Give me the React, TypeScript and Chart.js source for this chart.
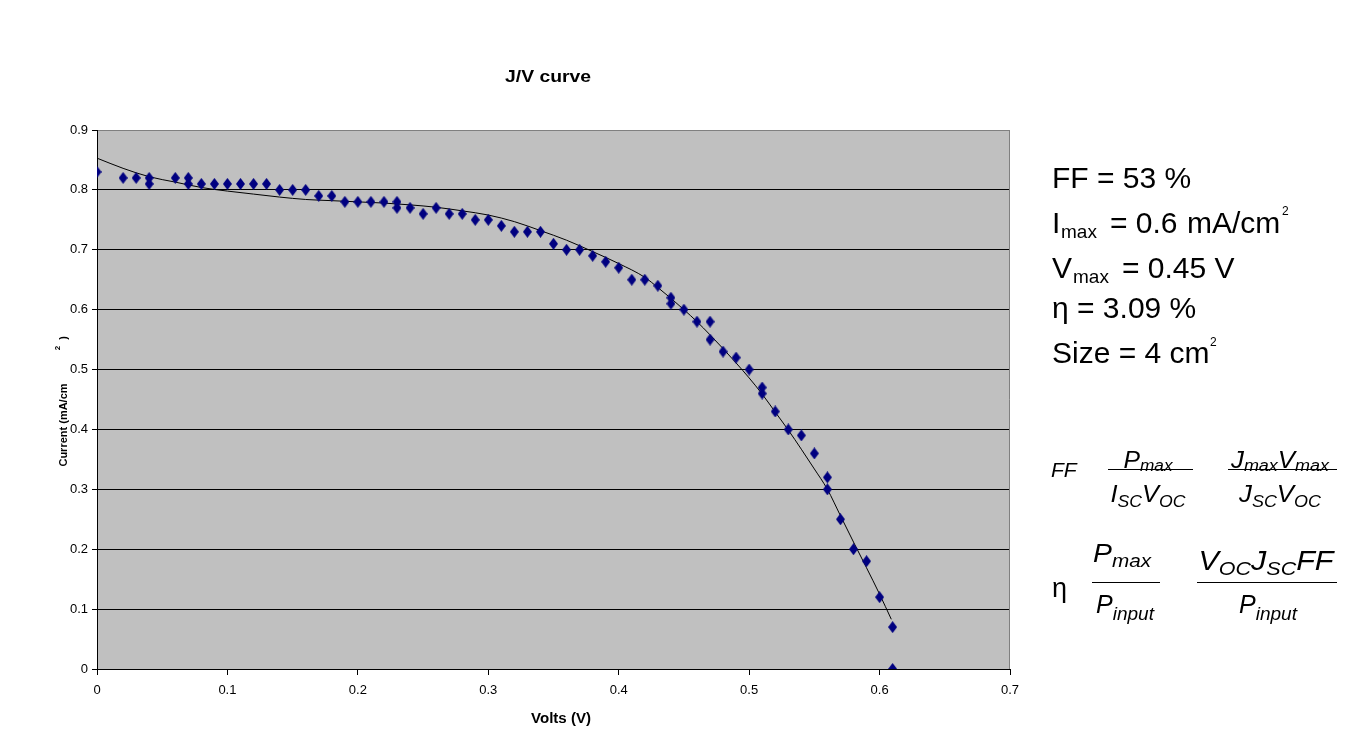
import React, { useEffect, useRef } from "react";
import { Chart, registerables } from "chart.js";

Chart.register(...registerables);

// ---- data ----
const VOLTS = [
  0, 0.02, 0.03, 0.04, 0.04, 0.06, 0.07, 0.07, 0.08, 0.09, 0.1, 0.11, 0.12, 0.13, 0.14, 0.15, 0.16, 0.17,
  0.18, 0.19, 0.2, 0.21, 0.22, 0.23, 0.23, 0.24, 0.25, 0.26, 0.27, 0.28, 0.29, 0.3, 0.31, 0.32, 0.33, 0.34,
  0.35, 0.36, 0.37, 0.38, 0.39, 0.4, 0.41, 0.42, 0.43, 0.44, 0.44, 0.45, 0.46, 0.47, 0.47, 0.48, 0.49, 0.5,
  0.51, 0.51, 0.52, 0.53, 0.54, 0.55, 0.56, 0.56, 0.57, 0.58, 0.59, 0.6, 0.61, 0.61,
];
const CURRENT = [
  0.83, 0.82, 0.82, 0.82, 0.81, 0.82, 0.82, 0.81, 0.81, 0.81, 0.81, 0.81, 0.81, 0.81, 0.8, 0.8, 0.8, 0.79,
  0.79, 0.78, 0.78, 0.78, 0.78, 0.78, 0.77, 0.77, 0.76, 0.77, 0.76, 0.76, 0.75, 0.75, 0.74, 0.73, 0.73, 0.73,
  0.71, 0.7, 0.7, 0.69, 0.68, 0.67, 0.65, 0.65, 0.64, 0.62, 0.61, 0.6, 0.58, 0.58, 0.55, 0.53, 0.52, 0.5,
  0.47, 0.46, 0.43, 0.4, 0.39, 0.36, 0.32, 0.3, 0.25, 0.2, 0.18, 0.12, 0.07, 0,
];
// trend line
const TREND_V = [
  0, 0.02, 0.04, 0.06, 0.08, 0.1, 0.12, 0.14, 0.16, 0.18, 0.2, 0.22, 0.24, 0.26, 0.28, 0.3, 0.32, 0.34, 0.36,
  0.38, 0.4, 0.42, 0.43, 0.44, 0.45, 0.46, 0.47, 0.48, 0.49, 0.5, 0.51, 0.52, 0.53, 0.54, 0.55, 0.56, 0.57,
  0.58, 0.59, 0.6, 0.609,
];
const TREND_J = [
  0.853, 0.836, 0.822, 0.813, 0.804, 0.798, 0.793, 0.788, 0.784, 0.782, 0.78, 0.778, 0.775, 0.771, 0.765,
  0.758, 0.747, 0.732, 0.716, 0.697, 0.677, 0.654, 0.637, 0.619, 0.6, 0.58, 0.558, 0.535, 0.511, 0.486,
  0.459, 0.429, 0.399, 0.367, 0.334, 0.3, 0.256, 0.212, 0.169, 0.125, 0.083,
];
const X_MIN = 0;
const X_MAX = 0.7;
const Y_MIN = 0;
const Y_MAX = 0.9;
const STEP = 0.1;

const TITLE = "J/V curve";
const X_TITLE = "Volts (V)";
const Y_TITLE = "Current (mA/cm";

const FONT = '"Liberation Sans", Arial, Helvetica, sans-serif';

type Item = { t: string; x: number; y: number; s: number };

const INFO: Item[] = [
  { t: "FF = 53 %", x: 1052, y: 188, s: 30 },
  { t: "I", x: 1052, y: 233, s: 30 },
  { t: "max", x: 1061, y: 238, s: 19 },
  { t: "= 0.6", x: 1110, y: 233, s: 30 },
  { t: "mA/cm", x: 1187, y: 233, s: 30 },
  { t: "2", x: 1282, y: 215, s: 12 },
  { t: "V", x: 1052, y: 278, s: 30 },
  { t: "max", x: 1073, y: 283, s: 19 },
  { t: "= 0.45 V", x: 1122, y: 278, s: 30 },
  { t: "η = 3.09 %", x: 1052, y: 318, s: 30 },
  { t: "Size = 4 cm", x: 1052, y: 363, s: 30 },
  { t: "2", x: 1210, y: 346, s: 12 },
];

// formula pieces: [text, size, baseline shift]
type Run = [string, number, number];
type Line = { cx: number; y: number; w: number; runs: Run[] };

const FORMULA_LINES: Line[] = [
  { cx: 1148, y: 468, w: 49, runs: [["P", 23, 0], ["max", 16, 3]] },
  { cx: 1148, y: 502, w: 75, runs: [["I", 23, 0], ["SC", 16, 5], ["V", 23, 0], ["OC", 16, 5]] },
  { cx: 1280, y: 468, w: 98, runs: [["J", 23, 0], ["max", 16, 3], ["V", 23, 0], ["max", 16, 3]] },
  { cx: 1280, y: 502, w: 82, runs: [["J", 23, 0], ["SC", 16, 5], ["V", 23, 0], ["OC", 16, 5]] },
  { cx: 1122, y: 562, w: 58, runs: [["P", 26, 0], ["max", 19, 5]] },
  { cx: 1125, y: 613, w: 58, runs: [["P", 25, 0], ["input", 19, 7]] },
  {
    cx: 1266,
    y: 570,
    w: 135,
    runs: [["V", 27, 0], ["OC", 19, 5], ["J", 27, 0], ["SC", 19, 5], ["FF", 27, 0]],
  },
  { cx: 1268, y: 613, w: 58, runs: [["P", 25, 0], ["input", 19, 7]] },
];
const BARS: [number, number, number][] = [
  [1108, 1193, 469],
  [1228, 1337, 469],
  [1092, 1160, 582],
  [1197, 1337, 582],
];

function drawItems(ctx: CanvasRenderingContext2D, items: Item[]) {
  for (const it of items) {
    ctx.font = `${it.s}px ${FONT}`;
    ctx.fillText(it.t, it.x, it.y);
  }
}

function drawLine(ctx: CanvasRenderingContext2D, line: Line) {
  let w = 0;
  for (const [t, s] of line.runs) {
    ctx.font = `italic ${s}px ${FONT}`;
    w += ctx.measureText(t).width;
  }
  const sx = line.w / w;
  ctx.save();
  ctx.translate(line.cx - line.w / 2, line.y);
  ctx.scale(sx, 1);
  let x = 0;
  for (const [t, s, dy] of line.runs) {
    ctx.font = `italic ${s}px ${FONT}`;
    ctx.fillText(t, x, dy);
    x += ctx.measureText(t).width;
  }
  ctx.restore();
}

function drawFitted(
  ctx: CanvasRenderingContext2D,
  text: string,
  font: string,
  cx: number,
  baseline: number,
  width: number
) {
  ctx.save();
  ctx.font = font;
  const w = ctx.measureText(text).width;
  const sx = width / w;
  ctx.translate(cx - width / 2, baseline);
  ctx.scale(sx, 1);
  ctx.textAlign = "left";
  ctx.fillText(text, 0, 0);
  ctx.restore();
}

function rotText(ctx: CanvasRenderingContext2D, t: string, font: string, x: number, y: number) {
  ctx.save();
  ctx.translate(x, y);
  ctx.rotate(-Math.PI / 2);
  ctx.font = font;
  ctx.textAlign = "center";
  ctx.textBaseline = "middle";
  ctx.fillText(t, 0, 0);
  ctx.restore();
}

const decoPlugin = {
  id: "deco",
  beforeDraw(chart: any) {
    const { ctx, chartArea: a } = chart;
    ctx.save();
    ctx.fillStyle = "#ffffff";
    ctx.fillRect(0, 0, chart.width, chart.height);
    ctx.fillStyle = "#C0C0C0";
    ctx.fillRect(a.left, a.top, a.right - a.left, a.bottom - a.top);
    ctx.restore();
  },
  beforeDatasetsDraw(chart: any) {
    const { ctx, chartArea: a } = chart;
    ctx.save();
    ctx.strokeStyle = "#808080";
    ctx.lineWidth = 1;
    ctx.beginPath();
    const x = Math.round(a.right) - 0.5;
    ctx.moveTo(x, Math.round(a.top));
    ctx.lineTo(x, Math.round(a.bottom));
    ctx.stroke();
    ctx.restore();
  },
  afterDraw(chart: any) {
    const ctx: CanvasRenderingContext2D = chart.ctx;
    ctx.save();
    ctx.fillStyle = "#000";
    ctx.textBaseline = "alphabetic";
    ctx.textAlign = "left";

    drawFitted(ctx, TITLE, `bold 16px ${FONT}`, 548, 82, 86);
    drawFitted(ctx, X_TITLE, `bold 14px ${FONT}`, 561, 723, 60);

    rotText(ctx, Y_TITLE, `bold 11px ${FONT}`, 64, 425);
    rotText(ctx, "2", `bold 8px ${FONT}`, 58, 348);
    rotText(ctx, ")", `bold 11px ${FONT}`, 64, 338);

    drawItems(ctx, INFO);
    ctx.font = `italic 21px ${FONT}`;
    ctx.fillText("FF", 1051, 477);
    ctx.font = `27px ${FONT}`;
    ctx.fillText("η", 1052, 597);
    for (const l of FORMULA_LINES) drawLine(ctx, l);
    for (const [x1, x2, y] of BARS) ctx.fillRect(x1, y, x2 - x1, 1);
    ctx.restore();
  },
};

const fmt = (v: number | string) => String(Math.round(Number(v) * 10) / 10);

export default function App() {
  const ref = useRef<HTMLCanvasElement>(null);

  useEffect(() => {
    const canvas = ref.current;
    if (!canvas) return;

    const diamond = document.createElement("canvas");
    diamond.width = 9;
    diamond.height = 12;
    const d = diamond.getContext("2d")!;
    d.fillStyle = "#000080";
    d.beginPath();
    d.moveTo(4.5, 0);
    d.lineTo(9, 6);
    d.lineTo(4.5, 12);
    d.lineTo(0, 6);
    d.closePath();
    d.fill();

    const chart = new Chart(canvas, {
      type: "scatter",
      data: {
        datasets: [
          {
            label: "J/V",
            data: VOLTS.map((v, i) => ({ x: v, y: CURRENT[i] })),
            pointStyle: diamond as any,
            pointRadius: 6,
            backgroundColor: "#000080",
            borderColor: "#000080",
            showLine: false,
            order: 0,
          },
          {
            label: "Trend",
            data: TREND_V.map((v, i) => ({ x: v, y: TREND_J[i] })),
            showLine: true,
            pointRadius: 0,
            borderColor: "#000000",
            borderWidth: 1,
            cubicInterpolationMode: "monotone",
            fill: false,
            order: 1,
          } as any,
        ],
      },
      options: {
        responsive: false,
        animation: false,
        devicePixelRatio: 1,
        events: [],
        layout: { padding: { top: 130, right: 362, bottom: 22, left: 57 } },
        plugins: {
          legend: { display: false },
          title: { display: false },
          tooltip: { enabled: false },
        },
        scales: {
          x: {
            type: "linear",
            min: X_MIN,
            max: X_MAX,
            afterFit: (s: any) => {
              s.height = 40;
            },
            ticks: {
              stepSize: STEP,
              color: "#000",
              font: { family: FONT, size: 13 },
              padding: 8,
              callback: (v: any) => fmt(v),
              maxRotation: 0,
            },
            grid: {
              drawOnChartArea: false,
              drawTicks: true,
              tickLength: 6,
              color: "#000",
              tickColor: "#000",
            },
            border: { display: true, color: "#000", width: 1 },
          },
          y: {
            type: "linear",
            min: Y_MIN,
            max: Y_MAX,
            afterFit: (s: any) => {
              s.width = 40;
            },
            ticks: {
              stepSize: STEP,
              color: "#000",
              font: { family: FONT, size: 13 },
              padding: 4,
              callback: (v: any) => fmt(v),
            },
            grid: {
              drawOnChartArea: true,
              drawTicks: true,
              tickLength: 5,
              lineWidth: 1,
              color: (c: any) =>
                c.tick && Math.abs(c.tick.value - Y_MAX) < 1e-6 ? "#808080" : "#000000",
              tickColor: "#000",
            },
            border: { display: true, color: "#000", width: 1 },
          },
        },
      },
      plugins: [decoPlugin],
    });

    return () => chart.destroy();
  }, []);

  return (
    <div
      style={{
        position: "absolute",
        left: 0,
        top: 0,
        width: 1372,
        height: 731,
        background: "#fff",
      }}
    >
      <canvas ref={ref} width={1372} height={731} style={{ display: "block", width: 1372, height: 731 }} />
    </div>
  );
}
